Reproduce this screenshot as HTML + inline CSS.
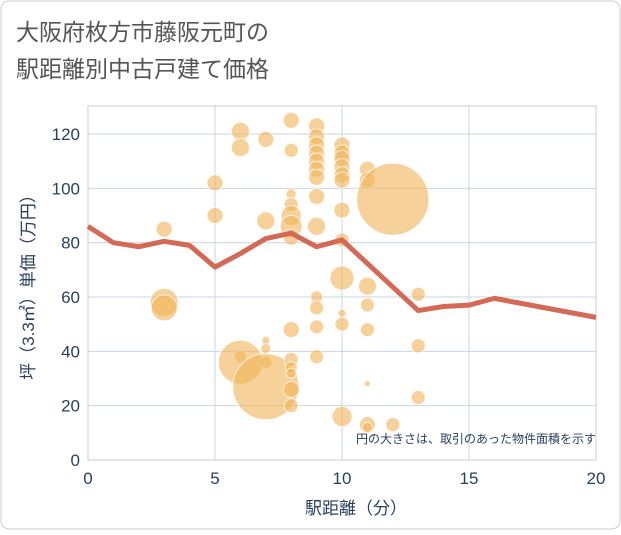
<!DOCTYPE html>
<html><head><meta charset="utf-8"><style>
body{margin:0;background:#fff;font-family:"Liberation Sans","Noto Sans CJK JP",sans-serif}
</style></head><body>
<svg width="621" height="530" xmlns="http://www.w3.org/2000/svg" font-family="Liberation Sans, Noto Sans CJK JP, sans-serif">
<rect x="1" y="1" width="619" height="528" rx="8" fill="#fff" stroke="#ccc"/>
<text x="16" y="40" font-size="23" fill="#555">大阪府枚方市藤阪元町の</text>
<text x="16" y="77" font-size="23" fill="#555">駅距離別中古戸建て価格</text>
<g id="grid"></g>
<rect x="88" y="106" width="508" height="354" fill="none" stroke="#ccc"/>
<g id="bubbles"></g>
<path id="line" fill="none" stroke="#d46a55" stroke-width="5" stroke-linejoin="round"/>
<g id="ticks"></g>
<text x="596" y="443" font-size="12" fill="#2a3f5f" text-anchor="end">円の大きさは、取引のあった物件面積を示す</text>
<text x="356" y="514" font-size="17" fill="#2a3f5f" text-anchor="middle">駅距離（分）</text>
<text transform="translate(34,283) rotate(-90)" font-size="17" fill="#2a3f5f" text-anchor="middle">坪（3.3㎡）単価（万円）</text>
</svg>
<script>
const xTicks=[0,5,10,15,20];
const yTicks=[0,20,40,60,80,100,120];
const bx=[3,3,3,5,5,6,6,6,6,7,7,7,7,7,7,8,8,8,8,8,8,8,8,8,8,8,8,8,9,9,9,9,9,9,9,9,9,9,9,9,9,10,10,10,10,10,10,10,10,10,10,10,10,11,11,11,11,11,11,11,11,12,12,13,13,13];
const by=[85,58,56,102,90,121,115,38,36,118,88,44,41,36,27,125,114,98,94,90,86,82,48,37,34,32,26,20,123,119,116,113,110,107,104,97,86,60,56,49,38,116,113,111,108,105,103,92,81,67,54,50,16,107,103,64,57,48,28,13,12,96,13,61,42,23];
const bs=[8,14,13,8,8,9,9,6,22,8,9,4,5,6,33,8,7,5,7,10,11,8,8,7,6,5,8,7,8,8,8,8,8,8,8,8,9,6,7,7,7,8,8,8,8,8,8,8,7,12,4,7,10,8,8,9,7,7,3,8,5,36,7,7,7,7];
const lx=[0,1,2,3,4,5,6,7,8,9,10,13,14,15,16,20];
const ly=[86,80,78.5,80.5,79,71,76,81.5,83.5,78.5,81,55,56.5,57,59.5,52.5];
const X=v=>88+v*25.4, Y=v=>460-v*326/120;
const NS="http://www.w3.org/2000/svg";
const g=document.getElementById('grid'),t=document.getElementById('ticks'),b=document.getElementById('bubbles');
xTicks.forEach(v=>{
 const l=document.createElementNS(NS,'line');l.setAttribute('x1',X(v));l.setAttribute('x2',X(v));l.setAttribute('y1',106);l.setAttribute('y2',460);l.setAttribute('stroke','#c8d4e3');
 
 g.appendChild(l);
 const s=document.createElementNS(NS,'text');s.setAttribute('x',X(v));s.setAttribute('y',484);s.setAttribute('font-size','17');s.setAttribute('fill','#2a3f5f');s.setAttribute('text-anchor','middle');s.textContent=v;
 
 t.appendChild(s);
});
yTicks.forEach(v=>{
 const l=document.createElementNS(NS,'line');l.setAttribute('x1',88);l.setAttribute('x2',596);l.setAttribute('y1',Y(v));l.setAttribute('y2',Y(v));l.setAttribute('stroke','#c8d4e3');
 
 g.appendChild(l);
 const s=document.createElementNS(NS,'text');s.setAttribute('x',80);s.setAttribute('y',Y(v)+6);s.setAttribute('font-size','17');s.setAttribute('fill','#2a3f5f');s.setAttribute('text-anchor','end');s.textContent=v;
 
 t.appendChild(s);
});
bx.forEach((v,i)=>{
 const c=document.createElementNS(NS,'circle');c.setAttribute('cx',X(v));c.setAttribute('cy',Y(by[i]));c.setAttribute('r',bs[i]);
 c.setAttribute('fill','rgba(240,180,90,0.62)');c.setAttribute('stroke','rgba(255,255,255,0.7)');
 
 b.appendChild(c);
});
document.getElementById('line').setAttribute('d',lx.map((v,i)=>(i?'L':'M')+X(v)+','+Y(ly[i])).join(''));
</script>
</body></html>
